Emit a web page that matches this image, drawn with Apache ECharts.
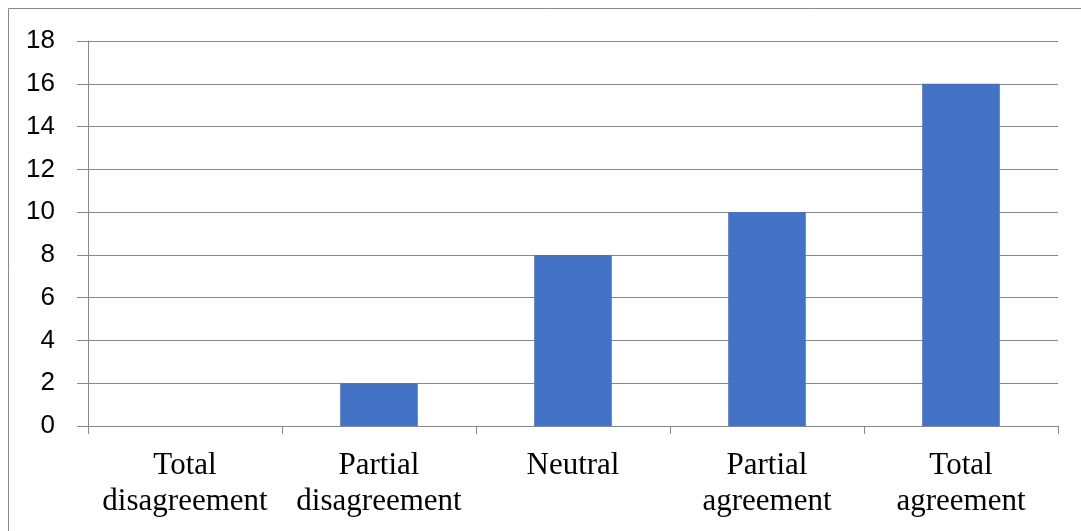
<!DOCTYPE html>
<html>
<head>
<meta charset="utf-8">
<script src="https://cdn.jsdelivr.net/npm/echarts@6/dist/echarts.min.js"></script>
<style>
html,body{margin:0;padding:0;background:#fff;}
#chart{width:1081px;height:531px;}
</style>
</head>
<body>
<div id="chart"></div>
<script>
const categories = ['Total\ndisagreement', 'Partial\ndisagreement', 'Neutral', 'Partial\nagreement', 'Total\nagreement'];
const values = [0, 2, 8, 10, 16];
const yTicks = { min: 0, max: 18, interval: 2 };

const chart = echarts.init(document.getElementById('chart'));
chart.setOption({
  animation: false,
  backgroundColor: '#fff',
  graphic: [{
    type: 'rect',
    shape: { x: 8.5, y: 8.5, width: 1100, height: 600 },
    style: { fill: 'none', stroke: '#888', lineWidth: 1 },
    silent: true
  }],
  grid: { left: 88, right: 23, top: 41, bottom: 105 },
  xAxis: {
    type: 'category',
    data: categories,
    axisLine: { lineStyle: { color: '#888', width: 1 } },
    axisTick: { show: true, length: 8, lineStyle: { color: '#888' } },
    axisLabel: {
      fontFamily: 'Liberation Serif',
      fontSize: 31,
      lineHeight: 36,
      color: '#000',
      margin: 22,
      interval: 0
    }
  },
  yAxis: {
    type: 'value',
    min: yTicks.min,
    max: yTicks.max,
    interval: yTicks.interval,
    axisLine: { show: true, lineStyle: { color: '#888', width: 1 } },
    axisTick: { show: true, length: 11, lineStyle: { color: '#888' } },
    splitLine: { lineStyle: { color: '#888', width: 1 } },
    axisLabel: {
      fontFamily: 'Liberation Sans',
      fontSize: 26,
      color: '#000',
      margin: 33
    }
  },
  series: [{
    type: 'bar',
    data: values,
    barWidth: '40%',
    itemStyle: { color: '#4472C4' }
  }]
});
</script>
</body>
</html>
